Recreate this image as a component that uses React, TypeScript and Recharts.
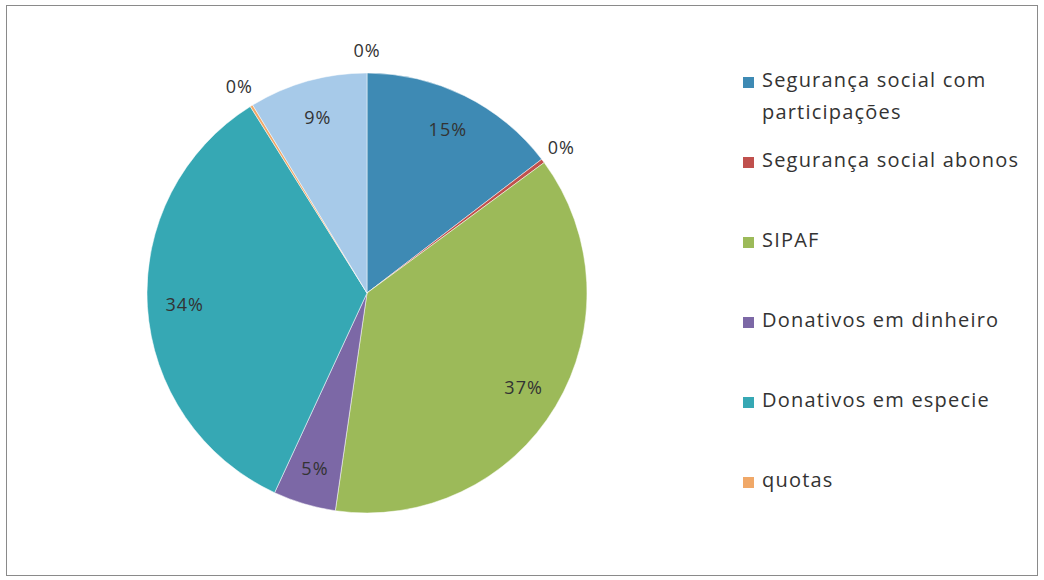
import React from "react";
import { PieChart, Pie, Cell, Legend } from "recharts";

const categories = [
  "Segurança social com participações",
  "Segurança social abonos",
  "SIPAF",
  "Donativos em dinheiro",
  "Donativos em especie",
  "quotas",
  "Série 7",
  "Série 8",
];
const values = [14.6, 0.3, 37.4, 4.6, 34.2, 0.2, 8.7, 0.0];
const colors = ["#3e8ab4", "#c0504d", "#9cba59", "#7c68a6", "#36a8b4", "#f0a868", "#a7cae9", "#b06060"];
const legendCount = 6;

const data = categories.map((name, i) => ({ name, value: values[i] }));
const total = values.reduce((a, b) => a + b, 0);

const RAD = Math.PI / 180;
const FONT = "'Open Sans', sans-serif";

const renderLabel = (props: any) => {
  const { cx, cy, midAngle, outerRadius, value } = props;
  const pct = Math.round((value / total) * 100);
  const r = value < 1 ? outerRadius + 23 : outerRadius * 0.83;
  const x = cx + r * Math.cos(-midAngle * RAD);
  const y = cy + r * Math.sin(-midAngle * RAD);
  return (
    <text x={x} y={y} textAnchor="middle" dominantBaseline="central" fill="#333" fontSize={18} letterSpacing={1} fontFamily={FONT}>
      {pct + "%"}
    </text>
  );
};

const legendTops = [68, 148, 228, 308, 388, 468];

const renderLegend = () => (
  <div style={{ position: "relative", width: 290, height: 440 }}>
    {categories.slice(0, legendCount).map((c, i) => (
      <div key={c} style={{ position: "absolute", left: 0, top: legendTops[i] - 60, width: 290, display: "flex", alignItems: "flex-start" }}>
        <div style={{ width: 11, height: 11, background: colors[i], marginTop: 9, marginRight: 8, flexShrink: 0 }} />
        <div style={{ fontFamily: FONT, fontSize: 20, letterSpacing: 1.2, lineHeight: "32px", color: "#333", marginTop: -4, width: 265 }}>{c}</div>
      </div>
    ))}
  </div>
);

export default function App() {
  return (
    <div style={{ position: "absolute", left: 0, top: 0, width: 1044, height: 580, background: "#fff" }}>
      <div style={{ position: "absolute", left: 6, top: 5, width: 1032, height: 571, border: "1.5px solid #8a8a8a", boxSizing: "border-box" }} />
      <PieChart width={1044} height={580} margin={{ top: 0, right: 0, bottom: 0, left: 0 }}>
        <Pie
          data={data}
          dataKey="value"
          nameKey="name"
          cx={367}
          cy={293}
          outerRadius={220}
          startAngle={90}
          endAngle={-270}
          stroke="#ffffff"
          strokeWidth={0.5}
          label={renderLabel}
          labelLine={false}
          isAnimationActive={false}
        >
          {data.map((d, i) => (
            <Cell key={d.name} fill={colors[i]} />
          ))}
        </Pie>
        <Legend
          content={renderLegend}
          wrapperStyle={{ position: "absolute", left: 743, top: 60, width: 290, height: 440 }}
        />
      </PieChart>
    </div>
  );
}
